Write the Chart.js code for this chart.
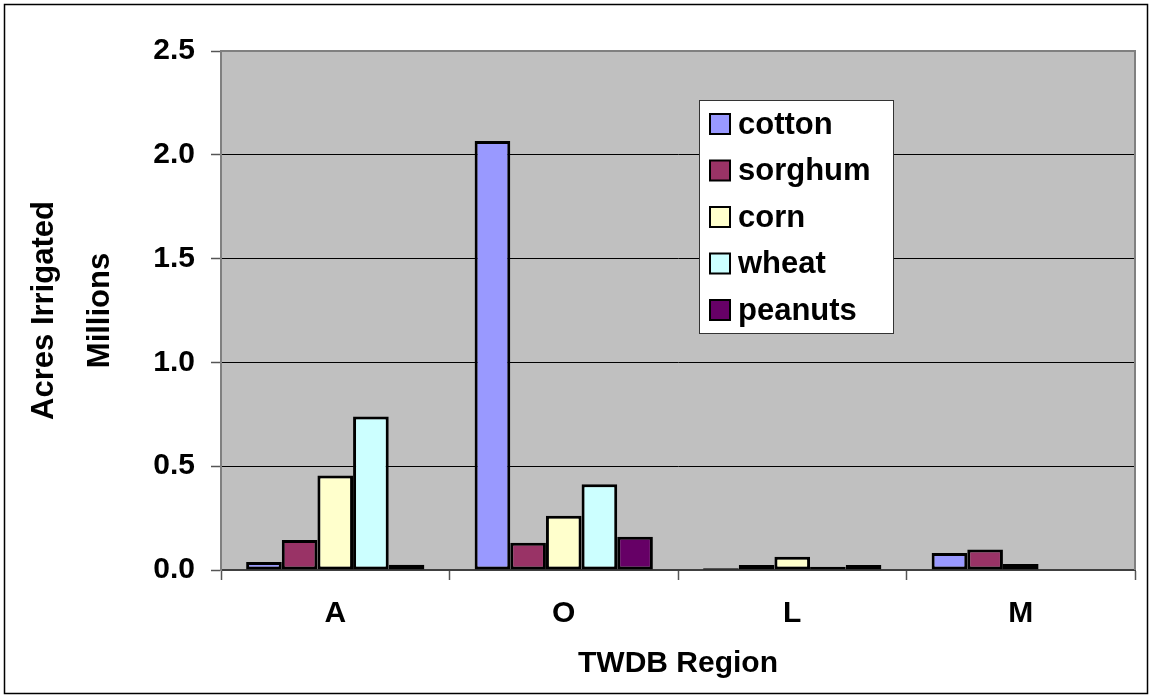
<!DOCTYPE html>
<html>
<head>
<meta charset="utf-8">
<script src="https://cdn.jsdelivr.net/npm/chart.js@4/dist/chart.umd.min.js"></script>
<style>
  html, body { margin: 0; padding: 0; background: #fff; }
  #wrap { width: 1150px; height: 698px; }
</style>
</head>
<body>
<div id="wrap"><canvas id="cropChart" width="1150" height="698"></canvas></div>
<script>
const regions = ['A', 'O', 'L', 'M'];
const cotton = [0.038, 2.067, 0.008, 0.082];
const sorghum = [0.145, 0.131, 0.024, 0.099];
const corn = [0.455, 0.261, 0.064, 0.029];
const wheat = [0.740, 0.413, 0.016, 0];
const peanuts = [0.025, 0.160, 0.024, 0];
const yTicks = [0, 0.5, 1.0, 1.5, 2.0, 2.5];

const FONT = '"Liberation Sans", Arial, sans-serif';

// gray plot background + outer frame
const background = {
  id: 'background',
  beforeDraw(chart) {
    const { ctx, chartArea: a } = chart;
    ctx.save();
    ctx.fillStyle = '#fff';
    ctx.fillRect(0, 0, chart.width, chart.height);
    ctx.fillStyle = '#c0c0c0';
    ctx.fillRect(a.left, a.top, a.right - a.left, a.bottom - a.top);
    ctx.strokeStyle = '#000';
    ctx.lineWidth = 1.5;
    ctx.strokeRect(4.5, 4.5, 1143, 689);
    ctx.restore();
  },
  beforeDatasetsDraw(chart) {
    const { ctx, chartArea: a } = chart;
    ctx.save();
    ctx.strokeStyle = '#808080';
    ctx.lineWidth = 2;
    ctx.beginPath();
    ctx.moveTo(a.left, a.top);
    ctx.lineTo(a.right, a.top);
    ctx.lineTo(a.right, a.bottom);
    ctx.stroke();
    ctx.restore();
  }
};

// boxed legend inside the plot
const boxLegend = {
  id: 'boxLegend',
  afterDraw(chart) {
    const ctx = chart.ctx;
    const x = 699, y = 100, w = 194, h = 233;
    ctx.save();
    ctx.fillStyle = '#fff';
    ctx.fillRect(x, y, w, h);
    ctx.strokeStyle = '#333';
    ctx.lineWidth = 1;
    ctx.strokeRect(x + 0.5, y + 0.5, w, h);
    ctx.font = 'bold 31px ' + FONT;
    ctx.textBaseline = 'middle';
    chart.data.datasets.forEach((ds, i) => {
      const cy = 124 + i * 46.5;
      ctx.fillStyle = ds.backgroundColor;
      ctx.fillRect(710, cy - 10, 20, 20);
      ctx.strokeStyle = '#000';
      ctx.lineWidth = 2;
      ctx.strokeRect(710, cy - 10, 20, 20);
      ctx.fillStyle = '#000';
      ctx.fillText(ds.label, 738, cy + 1);
    });
    ctx.restore();
  }
};

const ctx = document.getElementById('cropChart').getContext('2d');

const mkSet = (label, data, color) => ({
  label: label,
  data: data,
  backgroundColor: color,
  borderColor: '#000',
  borderWidth: 3,
  borderSkipped: false,
  categoryPercentage: 0.78,
  barPercentage: 1.0
});

const chart = new Chart(ctx, {
  type: 'bar',
  data: {
    labels: regions,
    datasets: [
      mkSet('cotton', cotton, '#9999ff'),
      mkSet('sorghum', sorghum, '#993366'),
      mkSet('corn', corn, '#ffffcc'),
      mkSet('wheat', wheat, '#ccffff'),
      mkSet('peanuts', peanuts, '#660066')
    ]
  },
  options: {
    responsive: false,
    animation: false,
    layout: { padding: { top: 51, right: 15, left: 0, bottom: 0 } },
    plugins: {
      legend: { display: false },
      tooltip: { enabled: false }
    },
    scales: {
      x: {
        afterFit: (s) => { s.height = 128; },
        grid: {
          offset: true,
          drawOnChartArea: false,
          tickLength: 10,
          tickColor: '#555',
          tickWidth: 1.5
        },
        border: { color: '#404040', width: 2 },
        ticks: {
          color: '#000',
          padding: 16,
          font: { family: FONT, size: 30, weight: 'bold' }
        },
        title: {
          display: true,
          text: 'TWDB Region',
          color: '#000',
          padding: { top: 0, bottom: 16 },
          font: { family: FONT, size: 30, weight: 'bold' }
        }
      },
      y: {
        min: 0,
        max: 2.5,
        afterFit: (s) => { s.width = 221; },
        afterBuildTicks: (s) => { s.ticks = yTicks.map(v => ({ value: v })); },
        grid: {
          color: '#000',
          lineWidth: 1,
          tickLength: 10,
          tickColor: '#555',
          tickWidth: 1.5
        },
        border: { color: '#808080', width: 2 },
        ticks: {
          color: '#000',
          padding: 16,
          callback: (v) => Number(v).toFixed(1),
          font: { family: FONT, size: 30, weight: 'bold' }
        },
        title: {
          display: true,
          text: ['Acres Irrigated', 'Millions'],
          color: '#000',
          padding: { top: 17, bottom: 0 },
          font: { family: FONT, size: 31, weight: 'bold', lineHeight: 1.8 }
        }
      }
    }
  },
  plugins: [background, boxLegend]
});
</script>
</body>
</html>
